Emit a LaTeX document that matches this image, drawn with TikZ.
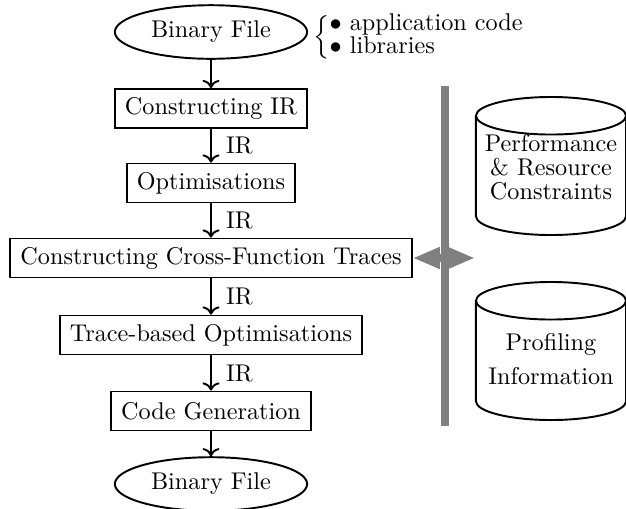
\documentclass[tikz,border=0pt]{standalone}
\usepackage{tikz}
\usetikzlibrary{
  arrows.meta,
  positioning,
  shapes.geometric
}
\definecolor{bargray}{HTML}{808080}

\begin{document}
\begin{tikzpicture}[
  x=0.413pt, y=-0.413pt,
  stage/.style={
    rectangle, draw, thick,
    minimum height=16.1pt, inner xsep=4.2pt
  },
  binfile/.style={
    ellipse, draw, thick,
    minimum width=76.8pt, minimum height=20.2pt
  },
  store/.style={
    cylinder, shape border rotate=90, aspect=0.25,
    draw, thick, anchor=shape center,
    inner xsep=31pt, inner ysep=0pt,
    minimum width=62pt, minimum height=57pt
  },
  storetext/.style={align=center, inner sep=0pt},
  flow/.style={thick, ->},
  irlabel/.style={right, inner sep=2pt, xshift=3.8pt}
]
\useasboundingbox (0,0) rectangle (626,508);

% compiler pipeline
\node[binfile] (binin) at (211, 32) {Binary File};
\node[anchor=west, inner sep=0pt] (inputs) at (313, 37)
  {$\left\{\renewcommand{\arraystretch}{0.7}\begin{tabular}{@{}l@{}}
    $\bullet$ application code\\
    $\bullet$ libraries
  \end{tabular}\right.$};

\node[stage] (buildir) at (211, 108.5) {Constructing IR};
\node[stage] (optim)   at (211, 183)   {Optimisations};
\node[stage] (traces)  at (211, 258)   {Constructing Cross-Function Traces};
\node[stage] (traceopt) at (211, 335)  {Trace-based Optimisations};
\node[stage] (codegen) at (211, 411)   {Code Generation};
\node[binfile] (binout) at (211, 484)  {Binary File};

\draw[flow] (binin) -- (buildir);
\draw[flow] (buildir) -- node[irlabel] {IR} (optim);
\draw[flow] (optim) -- node[irlabel] {IR} (traces);
\draw[flow] (traces) -- node[irlabel] {IR} (traceopt);
\draw[flow] (traceopt) -- node[irlabel] {IR} (codegen);
\draw[flow] (codegen) -- (binout);

% side information
\node[store] (constraints) at (551, 166) {};
\node[storetext] (constraintstext) at ([yshift=-0.4pt]constraints.shape center)
  {Performance\\[-2.1pt]\& Resource\\[-2.1pt]Constraints};
\node[store] (profile) at (551, 351) {};
\node[storetext] (profiletext) at ([yshift=-3.3pt]profile.shape center)
  {Profiling\\[2pt]Information};

% bar and link
\coordinate (bartop) at (445, 86);
\coordinate (barbot) at (445, 426);
\draw[bargray, line width=3.3pt] (bartop) -- (barbot);
\coordinate (linkend) at (475, 258);
\draw[bargray, line width=3.3pt,
  {Triangle[length=11.2pt, width=8.3pt]}-{Triangle[length=11.2pt, width=8.3pt]}]
  (traces.east) -- (linkend);

\end{tikzpicture}
\end{document}
